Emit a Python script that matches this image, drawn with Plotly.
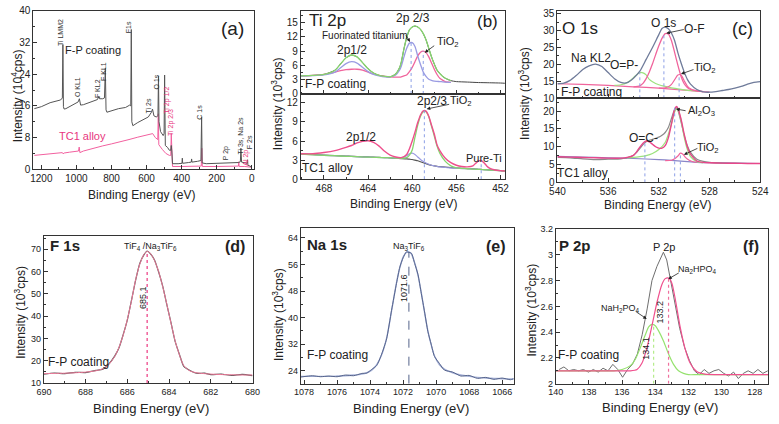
import plotly.graph_objects as go

W, H = 779, 424
FONT = "Liberation Sans, Arial, sans-serif"

# ---------------- (a) survey spectra (10^4 cps) ----------------
a_fp_ev = [1240, 1200, 1150, 1110, 1090, 1080, 1077, 1074, 1070, 1060, 1040, 1010, 990, 983, 980, 976, 960, 930, 900, 880,
           872, 868, 850, 840, 835, 831, 826, 800, 760, 720, 696, 690, 687, 684, 678, 650, 620, 590, 572, 566,
           558, 545, 535, 532, 529, 520, 505, 500, 497, 493, 480, 470, 462, 459, 456, 452, 420, 398, 396, 394,
           360, 345, 343, 341, 310, 290, 286, 283, 260, 200, 150, 100, 75, 65, 62, 58, 40, 26, 24, 22, 10, 0]
a_fp_int = [15.3, 15.8, 16.8, 17.3, 17.5, 18.0, 31.5, 15.8, 15.2, 15.3, 15.8, 16.5, 17.0, 17.8, 17.0, 16.2, 16.3, 16.8, 17.2, 17.6,
            18.4, 17.8, 17.8, 18.0, 25.5, 15.0, 14.4, 14.8, 15.3, 15.6, 16.2, 16.0, 35.3, 12.0, 11.0, 11.8, 12.5, 13.2, 14.4, 15.2,
            13.5, 13.2, 13.5, 23.5, 12.0, 9.5, 8.5, 9.0, 23.8, 6.0, 5.5, 4.8, 4.8, 6.0, 4.6, 1.4, 1.4, 1.5, 2.8, 1.5,
            1.7, 1.8, 2.6, 1.8, 2.0, 2.2, 13.1, 1.6, 1.4, 1.5, 1.5, 1.6, 1.7, 1.9, 5.3, 1.8, 1.6, 1.5, 2.4, 1.0, 0.8, 0.5]
a_tc_ev = [1240, 1200, 1150, 1100, 1080, 1076, 1070, 1040, 1000, 988, 984, 980, 960, 900, 850, 800, 750, 700, 650, 600,
           580, 565, 550, 536, 533, 530, 510, 490, 470, 462, 459, 456, 452, 400, 300, 288, 285, 282, 200, 120,
           76, 74, 72, 40, 0]
a_tc_int = [3.5, 3.7, 3.9, 4.1, 4.2, 3.9, 4.1, 4.3, 4.5, 4.6, 5.6, 4.2, 4.6, 5.4, 5.9, 6.4, 6.9, 7.5, 8.1, 8.6,
            8.8, 9.0, 8.0, 7.5, 14.0, 6.2, 5.0, 4.0, 3.5, 3.5, 9.0, 3.0, 0.7, 0.7, 0.7, 0.8, 5.3, 0.7, 0.7, 0.7,
            0.8, 1.9, 0.7, 0.7, 0.5]

# ---------------- (b) Ti 2p ----------------
b_top_ev = [470.1, 469.0, 468.0, 467.0, 466.5, 466.0, 465.5, 465.0, 464.5, 464.0, 463.5, 463.0, 462.5, 462.0, 461.5, 461.15,
            461.0, 460.75, 460.5, 460.25, 460.0, 459.75, 459.5, 459.25, 459.0, 458.75, 458.5, 458.25, 458.0, 457.75, 457.5,
            457.25, 457.0, 456.5]
b_top_env = [3.8, 3.9, 4.1, 5.0, 6.3, 7.6, 8.2, 7.8, 6.6, 5.3, 4.4, 3.9, 3.7, 3.6, 4.2, 5.5, 6.6, 9.5, 11.9, 13.5,
             14.1, 14.3, 14.1, 13.6, 12.7, 11.4, 9.6, 7.8, 6.3, 5.0, 4.3, 3.7, 3.3, 2.8]
b_top_fluor = [3.8, 3.85, 4.0, 4.6, 5.5, 6.4, 6.8, 6.5, 5.6, 4.7, 4.1, 3.8, 3.6, 3.6, 4.0, 5.0, 5.8, 7.8, 9.6, 10.7,
               10.8, 10.0, 8.0, 6.2, 4.6, 3.7, 3.1, 2.85, 2.7, 2.65, 2.6, 2.55, 2.5, 2.45]
b_top_tio2 = [3.8, 3.9, 4.1, 4.6, 4.9, 5.1, 5.2, 5.2, 5.0, 4.6, 4.2, 3.9, 3.7, 3.6, 3.55, 3.55, 3.6, 3.8, 4.0, 4.7,
              5.6, 6.8, 8.0, 8.8, 9.0, 8.7, 7.8, 6.5, 5.2, 4.1, 3.3, 2.9, 2.6, 2.45]
b_top_tail_ev = [456.0, 455.0, 454.0, 453.0, 452.0, 451.6]
b_top_tail = [2.6, 2.5, 2.4, 2.35, 2.3, 2.25]
b_top_mark_ev = [460.1, 459.0]
b_top_mark_h = [10.8, 9.0]

b_bot_ev = [470.1, 469.0, 468.0, 467.0, 466.0, 465.5, 465.0, 464.5, 464.0, 463.5, 463.0, 462.5, 462.0, 461.5, 461.0,
            460.5, 460.25, 460.0, 459.75, 459.5, 459.25, 459.0, 458.75, 458.5, 458.25, 458.0, 457.75, 457.5, 457.0,
            456.5, 456.0, 455.5, 455.0, 454.5, 454.25, 454.0, 453.75, 453.5, 453.25, 453.0, 452.5, 452.0, 451.6]
b_bot_env = [4.0, 4.0, 4.2, 4.5, 5.0, 5.3, 5.7, 5.95, 6.05, 5.8, 5.2, 4.4, 3.8, 3.5, 3.4, 3.9, 4.8, 6.0, 7.4, 8.9,
             10.1, 10.75, 10.7, 9.9, 8.5, 7.1, 5.4, 4.5, 3.3, 2.6, 2.2, 2.0, 1.95, 2.1, 2.5, 2.85, 2.95, 2.6, 2.1, 1.75,
             1.45, 1.35, 1.3]
b_bot_tio2 = [3.95, 3.85, 3.75, 3.7, 3.6, 3.58, 3.55, 3.5, 3.48, 3.45, 3.42, 3.4, 3.37, 3.33, 3.3, 3.4, 3.8, 4.6, 6.6, 8.5,
              9.9, 10.6, 10.6, 9.8, 8.3, 6.8, 5.2, 4.1, 2.8, 2.1, 1.8, 1.7, 1.65, 1.6, 1.58, 1.55, 1.53, 1.5, 1.48, 1.45,
              1.4, 1.35, 1.3]
b_bot_sub = [3.95, 3.85, 3.75, 3.7, 3.6, 3.58, 3.55, 3.5, 3.48, 3.45, 3.42, 3.4, 3.37, 3.33, 3.35, 3.7, 4.0, 4.1, 3.9, 3.5,
             3.1, 2.8, 2.55, 2.35, 2.2, 2.1, 2.0, 1.95, 1.85, 1.78, 1.72, 1.68, 1.65, 1.6, 1.58, 1.55, 1.53, 1.5, 1.48, 1.45,
             1.4, 1.35, 1.3]
b_bot_bg = [4.0, 3.9, 3.8, 3.72, 3.65, 3.6, 3.57, 3.53, 3.5, 3.47, 3.43, 3.4, 3.36, 3.3, 3.25, 3.2, 3.15, 3.1, 3.0, 2.9,
            2.75, 2.6, 2.45, 2.3, 2.2, 2.1, 2.02, 1.97, 1.9, 1.83, 1.77, 1.72, 1.68, 1.63, 1.6, 1.57, 1.55, 1.52, 1.5, 1.47,
            1.42, 1.36, 1.3]
b_bot_mark_ev = [458.9, 453.75]
b_bot_mark_h = [10.8, 2.95]

# ---------------- (c) O 1s ----------------
c_top_ev = [540.0, 539.5, 539.0, 538.5, 538.0, 537.5, 537.0, 536.5, 536.0, 535.5, 535.0, 534.5, 534.0, 533.5, 533.0, 532.5,
            532.0, 531.75, 531.5, 531.25, 531.0, 530.75, 530.5, 530.25, 530.0, 529.75, 529.5, 529.0, 528.5, 528.0, 527.5,
            527.0, 526.5, 526.0, 525.5, 525.0, 524.5, 524.0]
c_top_data = [14.3, 14.5, 15.3, 16.8, 18.5, 19.6, 20.1, 19.4, 17.6, 15.8, 14.7, 14.6, 15.9, 18.0, 21.5, 25.0, 28.8, 30.6,
              31.0, 30.5, 29.2, 27.0, 23.5, 20.5, 17.8, 15.6, 14.2, 12.6, 11.9, 11.8, 12.0, 12.3, 12.6, 13.0, 13.5, 14.2,
              14.7, 14.9]
c_top_bg_ev = [540, 538, 536, 534, 532, 530, 529, 528.5, 528.0]
c_top_bg = [14.3, 14.1, 13.8, 13.4, 13.0, 12.4, 12.1, 11.95, 11.85]
c_of_ev = [534.0, 533.5, 533.25, 533.0, 532.75, 532.5, 532.25, 532.0, 531.75, 531.5, 531.25, 531.0, 530.75, 530.5, 530.25,
           530.0, 529.75, 529.5, 529.0, 528.5]
c_of = [13.4, 13.7, 14.4, 15.8, 17.8, 20.2, 22.9, 25.5, 27.7, 29.1, 29.0, 27.0, 23.5, 19.8, 16.5, 14.3, 13.2, 12.6, 12.2, 11.95]
c_tio2_ev = [532.0, 531.5, 531.25, 531.0, 530.75, 530.5, 530.25, 530.0, 529.75, 529.5, 529.25, 529.0, 528.5]
c_tio2 = [13.0, 13.1, 13.4, 14.1, 15.5, 16.9, 16.9, 15.2, 13.6, 12.8, 12.4, 12.2, 11.95]
c_op_ev = [535.5, 535.0, 534.5, 534.25, 534.0, 533.75, 533.5, 533.25, 533.0, 532.75, 532.5, 532.0, 531.5, 531.0, 530.5,
           530.0, 529.5, 529.0]
c_op = [13.8, 14.0, 14.6, 15.3, 16.1, 17.0, 17.6, 17.5, 16.9, 15.6, 14.9, 14.0, 13.5, 13.1, 12.8, 12.5, 12.3, 12.1]
c_top_mark_ev = [533.5, 531.6, 530.4]
c_top_mark_h = [17.6, 29.1, 17.0]

c_bot_ev = [540.0, 539.0, 538.0, 537.0, 536.0, 535.0, 534.5, 534.0, 533.75, 533.5, 533.25, 533.0, 532.75, 532.5, 532.25,
            532.0, 531.75, 531.5, 531.25, 531.0, 530.75, 530.6, 530.5, 530.25, 530.0, 529.75, 529.5, 529.0, 528.5, 528.0,
            527.0, 526.0, 525.0, 524.0]
c_bot_data = [7.0, 6.9, 6.6, 6.4, 6.5, 6.6, 6.9, 7.6, 8.4, 9.5, 10.6, 11.4, 11.8, 12.1, 12.4, 12.7, 13.2, 14.0, 15.4, 18.0,
              20.5, 20.9, 20.3, 17.0, 13.2, 10.3, 8.4, 6.5, 5.9, 5.6, 5.4, 5.35, 5.3, 5.3]
c_bot_env = [7.2, 7.1, 7.0, 6.9, 6.8, 6.8, 7.0, 7.6, 8.6, 9.9, 11.0, 11.6, 11.4, 10.7, 10.0, 9.6, 9.6, 10.3, 12.5, 16.5,
             20.5, 21.3, 20.8, 17.8, 13.5, 10.0, 7.9, 6.0, 5.6, 5.5, 5.4, 5.35, 5.3, 5.3]
c_al_ev = [534.5, 534.0, 533.5, 533.0, 532.5, 532.0, 531.5, 531.25, 531.0, 530.75, 530.6, 530.5, 530.25, 530.0, 529.75,
           529.5, 529.0, 528.5]
c_al = [6.9, 7.0, 7.2, 7.5, 8.1, 9.2, 11.2, 13.5, 16.5, 19.8, 20.6, 20.4, 17.5, 12.8, 9.3, 7.2, 5.8, 5.5]
c_bt_ev = [531.5, 531.0, 530.75, 530.5, 530.3, 530.1, 529.9, 529.6, 529.3, 529.0]
c_bt = [6.1, 6.2, 6.6, 7.4, 8.2, 7.9, 7.0, 6.2, 5.8, 5.6]
c_bot_bg_ev = [540, 538, 536, 534, 532, 531, 530, 529, 528, 526, 524]
c_bot_bg = [7.3, 7.1, 6.9, 6.7, 6.4, 6.2, 5.9, 5.6, 5.5, 5.4, 5.3]
c_bot_mark_ev = [533.1, 530.75, 530.3]
c_bot_mark_h = [11.6, 21.0, 8.2]

# ---------------- (d) F 1s ----------------
d_ev = [690.0, 689.5, 689.0, 688.5, 688.0, 687.5, 687.2, 686.9, 686.6, 686.4, 686.2, 686.0, 685.8, 685.6, 685.4, 685.2,
        685.05, 684.9, 684.7, 684.5, 684.3, 684.1, 683.9, 683.7, 683.5, 683.3, 683.0, 682.7, 682.3, 682.0, 681.5, 681.0,
        680.5, 680.0]
d_fit = [14.2, 14.3, 14.4, 14.6, 14.9, 15.5, 16.3, 18.2, 22.0, 26.0, 31.5, 38.5, 47.0, 56.5, 63.5, 67.8, 69.0, 68.2,
         65.0, 60.0, 53.0, 45.0, 36.5, 28.5, 22.5, 17.8, 15.4, 14.6, 14.2, 14.0, 13.8, 13.7, 13.6, 13.6]
d_data = [14.0, 14.5, 14.2, 14.8, 14.7, 15.7, 16.1, 18.4, 22.2, 25.8, 31.7, 38.3, 47.2, 56.3, 63.7, 67.6, 69.2, 68.0,
          65.2, 59.8, 53.2, 44.8, 36.7, 28.3, 22.7, 17.6, 15.6, 14.4, 14.4, 13.8, 14.0, 13.4, 13.9, 13.3]
d_mark_ev = [685.05]
d_mark_h = [69.0]

# ---------------- (e) Na 1s ----------------
e_ev = [1078.2, 1077.5, 1077.0, 1076.5, 1076.0, 1075.5, 1075.0, 1074.5, 1074.2, 1073.9, 1073.6, 1073.3, 1073.0, 1072.7,
        1072.4, 1072.2, 1072.0, 1071.8, 1071.65, 1071.5, 1071.3, 1071.1, 1070.9, 1070.7, 1070.5, 1070.3, 1070.1, 1069.8,
        1069.5, 1069.0, 1068.5, 1068.0, 1067.5, 1067.0, 1066.5, 1066.0, 1065.5, 1065.3]
e_fit = [22.3, 22.3, 22.3, 22.3, 22.4, 22.5, 22.7, 23.0, 23.4, 24.2, 25.8, 28.8, 33.8, 42.0, 50.5, 55.0, 58.2, 59.6, 59.8,
         59.2, 56.5, 52.8, 47.5, 41.5, 36.0, 31.8, 28.5, 25.8, 24.5, 23.4, 22.7, 22.3, 22.0, 21.8, 21.7, 21.6, 21.5, 21.5]
e_data = [22.1, 22.5, 22.2, 22.4, 22.2, 22.7, 22.5, 23.2, 23.3, 24.4, 25.6, 29.0, 33.6, 42.2, 50.3, 55.2, 58.0, 59.8, 59.6,
          59.4, 56.3, 53.0, 47.3, 41.7, 35.8, 32.0, 28.3, 26.2, 24.2, 23.6, 22.4, 22.6, 21.7, 22.0, 21.4, 21.8, 21.3, 21.6]
e_mark_ev = [1071.65]
e_mark_h = [59.8]

# ---------------- (f) P 2p ----------------
f_ev = [139.80, 139.51, 139.21, 138.92, 138.62, 138.33, 138.03, 137.74, 137.44, 137.15, 136.85, 136.56, 136.26, 135.97,
        135.67, 135.38, 135.08, 134.79, 134.49, 134.20, 133.90, 133.71, 133.51, 133.31, 133.12, 132.82, 132.53, 132.23,
        131.94, 131.64, 131.35, 131.05, 130.76, 130.46, 130.17, 129.87, 129.58, 129.28, 128.99, 128.69, 128.40, 128.10,
        127.81, 127.51, 127.22]
f_data = [2.11, 2.13, 2.10, 2.11, 2.10, 2.11, 2.09, 2.11, 2.09, 2.12, 2.10, 2.15, 2.11, 2.05, 2.11, 2.15, 2.23, 2.38, 2.58,
          2.80, 2.91, 2.96, 3.02, 2.96, 2.83, 2.63, 2.43, 2.28, 2.18, 2.10, 2.07, 2.11, 2.08, 2.10, 2.11, 2.08, 2.06, 2.09,
          2.04, 2.08, 2.10, 2.08, 2.11, 2.08, 2.10]
f_na2_ev = [140, 139, 138, 137, 136, 135.5, 135.1, 134.8, 134.5, 134.2, 133.9, 133.6, 133.4, 133.2, 133.0, 132.8, 132.5,
            132.2, 131.9, 131.5, 131.0, 130, 129, 128, 127.2]
f_na2 = [2.10, 2.10, 2.10, 2.10, 2.10, 2.10, 2.11, 2.16, 2.28, 2.45, 2.63, 2.77, 2.815, 2.82, 2.78, 2.66, 2.44, 2.27, 2.16,
         2.095, 2.075, 2.07, 2.07, 2.07, 2.07]
f_nah_ev = [140, 138, 136.5, 136, 135.5, 135.2, 134.9, 134.6, 134.4, 134.2, 134.0, 133.8, 133.5, 133.2, 132.9, 132.6, 132.3,
            132.0, 131.5, 130, 128, 127.2]
f_nah = [2.10, 2.10, 2.10, 2.11, 2.14, 2.19, 2.28, 2.38, 2.44, 2.46, 2.45, 2.41, 2.33, 2.23, 2.15, 2.10, 2.08, 2.07, 2.07,
         2.07, 2.07, 2.07]
f_mark_ev = [134.1, 133.2]
f_mark_h = [2.46, 2.82]

# ---------------- figure ----------------
fig = go.Figure()


def ax_id(i):
    return ("x" if i == 1 else f"x{i}"), ("y" if i == 1 else f"y{i}")


def line(i, x, y, color, width=1.2, shape="spline", dash=None):
    xa, ya = ax_id(i)
    fig.add_trace(go.Scatter(x=x, y=y, mode="lines", xaxis=xa, yaxis=ya, showlegend=False, hoverinfo="skip",
                             line=dict(color=color, width=width, shape=shape, smoothing=0.6, dash=dash)))


def marks(i, xs, hs, base, color, width=1.0, dash="dot"):
    for xv, hv in zip(xs, hs):
        line(i, [xv, xv], [base, hv], color, width=width, shape="linear", dash=dash)


# (a)
line(1, a_tc_ev, a_tc_int, "#f2609f", 1.0, "linear")
line(1, a_fp_ev, a_fp_int, "#555555", 1.0, "linear")

# (b) top
GREEN = "#86d46e"
BLUE = "#9a9be2"
PINK = "#f0649c"
line(2, b_top_ev + b_top_tail_ev, b_top_env + b_top_tail, "#444444", 1.0)
line(2, b_top_ev, b_top_tio2, PINK, 1.3)
line(2, b_top_ev, b_top_fluor, BLUE, 1.3)
line(2, b_top_ev, b_top_env, GREEN, 1.3)
marks(2, b_top_mark_ev, b_top_mark_h, 0, "#8c9fe6")
# (b) bottom
line(3, b_bot_ev, b_bot_bg, "#555555", 1.2)
line(3, b_bot_ev, b_bot_sub, BLUE, 1.2)
line(3, b_bot_ev, b_bot_tio2, GREEN, 1.3)
line(3, b_bot_ev, b_bot_env, "#ee4f8c", 1.4)
marks(3, b_bot_mark_ev, b_bot_mark_h, 0, "#8c9fe6")

# (c) top
line(4, c_top_bg_ev, c_top_bg, PINK, 1.2)
line(4, c_op_ev, c_op, "#9de27e", 1.2)
line(4, c_tio2_ev, c_tio2, PINK, 1.2)
line(4, c_of_ev, c_of, PINK, 1.3)
line(4, c_top_ev, c_top_data, "#6f7b9a", 1.3)
marks(4, c_top_mark_ev, c_top_mark_h, 10, "#8c9fe6")
# (c) bottom
line(5, c_bot_bg_ev, c_bot_bg, "#8a86c8", 1.2)
line(5, c_bot_ev, c_bot_data, "#8a8a8a", 1.2)
line(5, c_al_ev, c_al, "#9de27e", 1.3)
line(5, c_bt_ev, c_bt, PINK, 1.2)
line(5, c_bot_ev, c_bot_env, "#e8478a", 1.4)
marks(5, c_bot_mark_ev, c_bot_mark_h, 0, "#8c9fe6")

# (d)
line(6, d_ev, d_data, "#555555", 1.2)
line(6, d_ev, d_fit, "#f07a9a", 1.0)
marks(6, d_mark_ev, d_mark_h, 10, "#f0609a", 1.5)

# (e)
line(7, e_ev, e_fit, "#a7b2d8", 1.4)
line(7, e_ev, e_data, "#55638a", 1.0)
marks(7, e_mark_ev, e_mark_h, 20.1, "#55638a", 1.0, "dash")

# (f)
line(8, f_ev, f_data, "#6e6e6e", 1.0, "linear")
line(8, f_nah_ev, f_nah, "#95e26e", 1.2)
line(8, f_na2_ev, f_na2, "#f0508e", 1.2)
marks(8, f_mark_ev[:1], f_mark_h[:1], 2.0, "#b6ec8c", 1.2)
marks(8, f_mark_ev[1:], f_mark_h[1:], 2.0, "#f0709e", 1.2)

# ---------------- axes ----------------
axes = {
    1: dict(x=(26, 251), y=(5, 168), xr=[1245, -10], yr=[0, 40], xd=200, x0=0, yd=8, y0=0, xm=100, ym=4, xl=True, tf=10),
    2: dict(x=(299.3, 508), y=(5, 90.5), xr=[470.1, 451.6], yr=[0, 17.5], xd=4, x0=452, yd=3, y0=0, xm=2, ym=1.5, xl=False, tf=10),
    3: dict(x=(299.3, 508), y=(90.5, 178.3), xr=[470.1, 451.6], yr=[0, 13.4], xd=4, x0=452, yd=3, y0=0, xm=2, ym=1.5, xl=True, tf=10),
    4: dict(x=(561.7, 769), y=(4.7, 95), xr=[540, 524], yr=[10, 35.9], xd=4, x0=524, yd=5, y0=10, xm=2, ym=2.5, xl=False, tf=10),
    5: dict(x=(561.7, 769), y=(95, 181.5), xr=[540, 524], yr=[0, 23.6], xd=4, x0=524, yd=5, y0=0, xm=2, ym=2.5, xl=True, tf=10),
    6: dict(x=(36.7, 250), y=(237, 388), xr=[690, 680], yr=[10, 75.8], xd=2, x0=680, yd=10, y0=10, xm=1, ym=5, xl=True, tf=9),
    7: dict(x=(299.3, 517), y=(228.7, 388.7), xr=[1078.2, 1065.3], yr=[20.1, 66.9], xd=2, x0=1066, yd=8, y0=24, xm=1, ym=4, xl=True, tf=9),
    8: dict(x=(560, 777), y=(229.5, 388.7), xr=[140.0, 127.2], yr=[2.0, 3.2], xd=2, x0=128, yd=0.2, y0=2.0, xm=1, ym=0.1, xl=True, tf=9),
}

layout_axes = {}
for i, a in axes.items():
    xa, ya = ax_id(i)
    common = dict(showline=True, linecolor="#333333", linewidth=1, mirror=True, ticks="inside", ticklen=4,
                  tickwidth=1, tickcolor="#333333", showgrid=False, zeroline=False, tickangle=0,
                  tickfont=dict(size=a["tf"], color="#222222", family=FONT))
    xname = "xaxis" if i == 1 else f"xaxis{i}"
    yname = "yaxis" if i == 1 else f"yaxis{i}"
    layout_axes[xname] = dict(common, domain=[a["x"][0] / W, a["x"][1] / W], range=a["xr"], anchor=ya,
                              tickmode="linear", tick0=a["x0"], dtick=a["xd"], showticklabels=a["xl"],
                              minor=dict(ticks="inside", ticklen=2, tickcolor="#333333", dtick=a["xm"]))
    layout_axes[yname] = dict(common, domain=[1 - a["y"][1] / H, 1 - a["y"][0] / H], range=a["yr"], anchor=xa,
                              tickmode="linear", tick0=a["y0"], dtick=a["yd"],
                              minor=dict(ticks="inside", ticklen=2, tickcolor="#333333", dtick=a["ym"]))

# ---------------- annotations ----------------
ann = []


def T(x, y, s, size=10, color="#222222", angle=0, bold=False):
    if bold:
        s = f"<b>{s}</b>"
    ann.append(dict(x=x / W, y=1 - y / H, xref="paper", yref="paper", text=s, showarrow=False,
                    font=dict(size=size, color=color, family=FONT), textangle=angle,
                    xanchor="center", yanchor="middle"))


def A(x0, y0, x1, y1):
    ann.append(dict(x=x1 / W, y=1 - y1 / H, xref="paper", yref="paper", ax=x0 - x1, ay=y0 - y1,
                    text="", showarrow=True, arrowhead=2, arrowsize=0.9, arrowwidth=0.8, arrowcolor="#222222"))


YT3 = "Intensity (10<sup>3</sup>cps)"
XT = "Binding Energy (eV)"
TC = "#e8367e"

# (a)
T(10, 92, "Intensity (10<sup>4</sup>cps)", 12, angle=-90)
T(136, 194, XT, 12)
T(229, 23, "(a)", 19)
T(87, 45, "F-P coating", 11)
T(76, 134, "TC1 alloy", 11, TC)
for s, x, y, c in [("Ti LMM2", 53, 27, "#333"), ("O KL1", 71, 83, "#333"), ("F KL2", 91.5, 85, "#333"),
                   ("F KL1", 97, 67, "#333"), ("F1s", 123.5, 22, "#333"), ("Ti 2s", 143.5, 103, "#333"),
                   ("O 1s", 152, 78, "#333"), ("Ti 2p 1/2", 163, 97, TC), ("Ti 2p 2/3", 166, 120, TC),
                   ("C 1s", 196, 109, "#333"), ("P 2p", 222.5, 152, "#333"), ("Ti 3s, Na 2s", 237.5, 133, "#333"),
                   ("Al 2p", 242.5, 156, TC), ("F 2s", 246.5, 140, "#333")]:
    T(x, y, s, 7, c, angle=-90)

# (b)
T(275, 100, YT3, 12, angle=-90)
T(404, 204, XT, 12)
T(327, 15, "Ti 2p", 17)
T(490, 16, "(b)", 17)
T(414, 12, "2p 2/3", 12)
T(365, 30, "Fuorinated titanium", 10)
A(406, 29, 411, 37)
T(450, 37, "TiO<sub>2</sub>", 11)
A(437, 40, 426, 48)
T(352, 45, "2p1/2", 12)
T(335, 80, "F-P coating", 12)
T(433, 98, "2p2/3", 12)
T(463, 98, "TiO<sub>2</sub>", 11)
A(452, 101, 428, 106)
T(361, 135, "2p1/2", 12)
T(487, 156, "Pure-Ti", 11)
T(327, 167, "TC1 alloy", 12)

# (c)
T(528, 90, YT3, 12, angle=-90)
T(664, 205, XT, 12)
T(585, 23, "O 1s", 17)
T(751, 24, "(c)", 18)
T(670, 17, "O 1s", 12)
T(702, 24, "O-F", 12)
A(692, 24, 673, 28)
T(596, 54, "Na KL2", 12)
T(630, 61, "O=P-", 12)
T(713, 64, "TiO<sub>2</sub>", 11)
A(702, 65, 688, 70)
T(597, 88, "F-P coating", 12)
T(709, 108, "Al<sub>2</sub>O<sub>3</sub>", 11)
A(694, 108, 683, 106)
T(650, 136, "O=C-", 12)
T(716, 146, "TiO<sub>2</sub>", 11)
A(706, 146, 691, 153)
T(587, 172, "TC1 alloy", 12)

# (d)
T(12, 315, YT3, 12, angle=-90)
T(146, 414, XT, 13)
T(58, 246, "F 1s", 15, bold=True)
T(232, 247, "(d)", 16, bold=True)
T(146, 248, "TiF<sub>4</sub> /Na<sub>3</sub>TiF<sub>6</sub>", 9)
T(137.5, 300, "685.1", 9, angle=-90)
T(72, 366, "F-P coating", 12)

# (e)
T(276, 317, YT3, 12, angle=-90)
T(412, 414, XT, 13)
T(326, 245, "Na 1s", 15, bold=True)
T(499, 247, "(e)", 16, bold=True)
T(410, 248, "Na<sub>3</sub>TiF<sub>6</sub>", 9)
T(405, 290, "1071.6", 9, angle=-90)
T(337, 359, "F-P coating", 12)

# (f)
T(535, 313, YT3, 12, angle=-90)
T(667, 413, XT, 13)
T(579, 246, "P 2p", 15, bold=True)
T(760, 247, "(f)", 16, bold=True)
T(671, 248, "P 2p", 11)
T(705, 271, "Na<sub>2</sub>HPO<sub>4</sub>", 9)
A(687, 274, 675, 281)
T(626, 311, "NaH<sub>2</sub>PO<sub>4</sub>", 9)
A(641, 314, 653, 322)
T(667, 315, "133.2", 9, angle=-90)
T(652, 352, "134.1", 9, angle=-90)
T(593, 359, "F-P coating", 12)

fig.update_layout(width=W, height=H, margin=dict(l=0, r=0, t=0, b=0), paper_bgcolor="white",
                  plot_bgcolor="white", showlegend=False, annotations=ann,
                  font=dict(family=FONT, color="#222222"), **layout_axes)

fig.write_html("out.html", config={"displayModeBar": False},
               post_script="document.body.style.margin='0px';document.body.style.padding='0px';"
                           "document.body.style.overflow='hidden';")
